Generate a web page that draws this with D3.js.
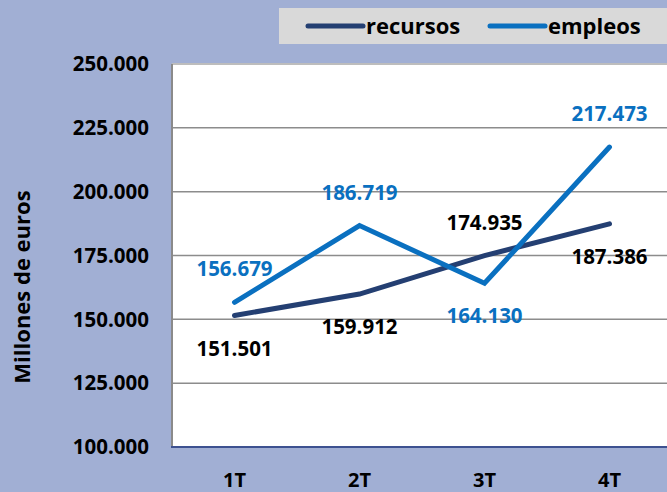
<!DOCTYPE html>
<html lang="es">
<head>
<meta charset="UTF-8">
<title>Recursos y empleos</title>
<style>
  body { margin: 0; background: #a1afd4; }
  svg text { font-family: "Open Sans", sans-serif; font-weight: bold; }
</style>
</head>
<body>
<script src="https://d3js.org/d3.v7.min.js"></script>
<script>
// data
var categories = ["1T", "2T", "3T", "4T"];
var recursos = [151501, 159912, 174935, 187386];
var empleos = [156679, 186719, 164130, 217473];
var yTicks = [100000, 125000, 150000, 175000, 200000, 225000, 250000];

// which side of the point each value label sits on
var recursosLabelSide = ["below", "below", "above", "below"];
var empleosLabelSide = ["above", "above", "below", "above"];

var W = 667, H = 492;
var colRec = "#243f72", colEmp = "#0a70c0";

var es = d3.formatLocale({ decimal: ",", thousands: ".", grouping: [3], currency: ["", " €"] });
var fmt = es.format(",");

var svg = d3.select("body").append("svg")
  .attr("width", W).attr("height", H);

svg.append("rect").attr("width", W).attr("height", H).attr("fill", "#a1afd4");

// plot box (note: "top" is reserved on window, so use other names)
var plotL = 172, plotR = 672, plotT = 64, plotB = 447;

var x = d3.scaleBand().domain(categories).range([plotL, plotR]);
var y = d3.scaleLinear().domain([100000, 250000]).range([plotB, plotT]);

// plot area
svg.append("rect")
  .attr("x", plotL).attr("y", plotT)
  .attr("width", W - plotL).attr("height", plotB - plotT)
  .attr("fill", "#fff");

// gridlines
svg.append("g").selectAll("line")
  .data(yTicks.slice(1))
  .join("line")
  .attr("x1", plotL).attr("x2", W)
  .attr("y1", function(d) { return y(d); })
  .attr("y2", function(d) { return y(d); })
  .attr("stroke", "#8c8c8c").attr("stroke-width", 1.5);

// top border a bit lighter
svg.append("line")
  .attr("x1", plotL).attr("x2", W).attr("y1", plotT).attr("y2", plotT)
  .attr("stroke", "#bdbdbd").attr("stroke-width", 2);

// left axis line
svg.append("line")
  .attr("x1", plotL).attr("x2", plotL).attr("y1", plotT).attr("y2", plotB)
  .attr("stroke", "#8a8a8a").attr("stroke-width", 2);

// bottom axis line
svg.append("line")
  .attr("x1", plotL - 1).attr("x2", W).attr("y1", plotB).attr("y2", plotB)
  .attr("stroke", "#3d5190").attr("stroke-width", 2);

// y tick labels
svg.append("g").selectAll("text")
  .data(yTicks)
  .join("text")
  .attr("x", 149)
  .attr("y", function(d) { return y(d); })
  .attr("dy", "0.35em")
  .attr("text-anchor", "end")
  .attr("font-size", 20.5)
  .attr("fill", "#000")
  .text(function(d) { return fmt(d); });

// x category labels
svg.append("g").selectAll("text")
  .data(categories)
  .join("text")
  .attr("x", function(d) { return x(d) + x.bandwidth() / 2; })
  .attr("y", 487)
  .attr("text-anchor", "middle")
  .attr("font-size", 20)
  .attr("fill", "#000")
  .text(function(d) { return d; });

// y axis title
svg.append("text")
  .attr("transform", "translate(30,287) rotate(-90)")
  .attr("text-anchor", "middle")
  .attr("font-size", 22)
  .attr("fill", "#000")
  .text("Millones de euros");

var line = d3.line()
  .x(function(d, i) { return x(categories[i]) + x.bandwidth() / 2; })
  .y(function(d) { return y(d); });

function drawSeries(vals, color, sides, labelColor) {
  svg.append("path")
    .datum(vals)
    .attr("d", line)
    .attr("fill", "none")
    .attr("stroke", color)
    .attr("stroke-width", 5)
    .attr("stroke-linecap", "round")
    .attr("stroke-linejoin", "miter");

  svg.append("g").selectAll("text")
    .data(vals)
    .join("text")
    .attr("x", function(d, i) { return x(categories[i]) + x.bandwidth() / 2; })
    .attr("y", function(d, i) { return y(d) + (sides[i] === "above" ? -33 : 33); })
    .attr("dy", "0.35em")
    .attr("text-anchor", "middle")
    .attr("font-size", 20.5)
    .attr("fill", labelColor)
    .text(function(d) { return fmt(d); });
}

drawSeries(recursos, colRec, recursosLabelSide, "#000");
drawSeries(empleos, colEmp, empleosLabelSide, colEmp);

// legend
var lg = svg.append("g");
lg.append("rect")
  .attr("x", 279).attr("y", 8)
  .attr("width", W - 279).attr("height", 36)
  .attr("fill", "#d9d9d9");

var legendItems = [
  { name: "recursos", color: colRec, x: 308 },
  { name: "empleos", color: colEmp, x: 490 }
];
legendItems.forEach(function(it) {
  lg.append("line")
    .attr("x1", it.x).attr("x2", it.x + 55)
    .attr("y1", 26).attr("y2", 26)
    .attr("stroke", it.color).attr("stroke-width", 5)
    .attr("stroke-linecap", "round");
  lg.append("text")
    .attr("x", it.x + 58).attr("y", 26)
    .attr("dy", "0.35em")
    .attr("font-size", 22)
    .attr("fill", "#000")
    .text(it.name);
});
</script>
</body>
</html>
